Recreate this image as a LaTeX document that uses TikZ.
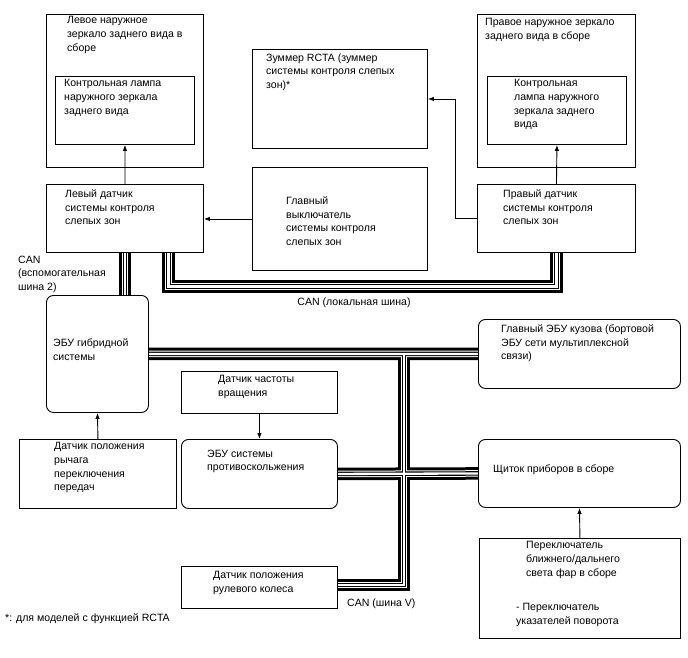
\documentclass[tikz,border=0pt]{standalone}
\usepackage{fontspec}
\setmainfont{Liberation Sans}
\usetikzlibrary{arrows.meta,calc,backgrounds}

\begin{document}
\begin{tikzpicture}[x=1bp,y=-1bp,
  every node/.style={font=\fontsize{10.6}{13.6}\selectfont},
  box/.style={draw=black,fill=white,line width=0.9bp,anchor=north west,inner sep=0pt},
  rbox/.style={box,rounded corners=7bp},
  txt/.style={anchor=north west,align=left,inner sep=0pt,yshift=-1.5bp},
  ar/.style={-{Latex[length=6bp,width=4.5bp]},line width=0.9bp}]
\useasboundingbox (0,0) rectangle (688,658);
\node[box,minimum width=157bp,minimum height=153bp] (lmir) at (46,14) {};
\node[box,minimum width=139bp,minimum height=68bp] (llamp) at (55,76) {};
\node[box,minimum width=157bp,minimum height=68bp] (lsens) at (46,184) {};
\node[box,minimum width=175bp,minimum height=99bp] (buzz) at (252,49) {};
\node[box,minimum width=175bp,minimum height=103bp] (msw) at (252,167) {};
\node[box,minimum width=158bp,minimum height=153bp] (rmir) at (477,14) {};
\node[box,minimum width=139bp,minimum height=68bp] (rlamp) at (487,76) {};
\node[box,minimum width=158bp,minimum height=68bp] (rsens) at (477,184) {};
\node[rbox,minimum width=102bp,minimum height=117bp] (hv) at (46,295) {};
\node[box,minimum width=156bp,minimum height=42bp] (spd) at (181,371) {};
\node[rbox,minimum width=156bp,minimum height=69bp] (abs) at (181,439) {};
\node[box,minimum width=157bp,minimum height=69bp] (shift) at (19,439) {};
\node[rbox,minimum width=202bp,minimum height=69bp] (body) at (478,319) {};
\node[rbox,minimum width=202bp,minimum height=68bp] (meter) at (478,439) {};
\node[box,minimum width=201bp,minimum height=100bp] (hlsw) at (479,538) {};
\node[box,minimum width=156bp,minimum height=42bp] (steer) at (181,566) {};
\node[txt] (lmir-t) at (67,15) {Левое наружное\\зеркало заднего вида в\\сборе};
\node[txt] (llamp-t) at (64,78) {Контрольная лампа\\наружного зеркала\\заднего вида};
\node[txt] (lsens-t) at (65,188) {Левый датчик\\системы контроля\\слепых зон};
\node[txt] (buzz-t) at (266,52) {Зуммер RCTA (зуммер\\системы контроля слепых\\зон)*};
\node[txt] (msw-t) at (286,195) {Главный\\выключатель\\системы контроля\\слепых зон};
\node[txt] (rmir-t) at (485,17) {Правое наружное зеркало\\заднего вида в сборе};
\node[txt] (rlamp-t) at (514,78) {Контрольная\\лампа наружного\\зеркала заднего\\вида};
\node[txt] (rsens-t) at (503,188) {Правый датчик\\системы контроля\\слепых зон};
\node[txt] (hv-t) at (53,337) {ЭБУ гибридной\\системы};
\node[txt] (spd-t) at (218,374) {Датчик частоты\\вращения};
\node[txt] (abs-t) at (207,448) {ЭБУ системы\\противоскольжения};
\node[txt] (shift-t) at (54,441) {Датчик положения\\рычага\\переключения\\передач};
\node[txt] (body-t) at (501,323) {Главный ЭБУ кузова (бортовой\\ЭБУ сети мультиплексной\\связи)};
\node[txt] (meter-t) at (493,463) {Щиток приборов в сборе};
\node[txt] (hlsw-t) at (526,540) {Переключатель\\ближнего/дальнего\\света фар в сборе};
\node[txt] (turn-t) at (516,602) {- Переключатель\\указателей поворота};
\node[txt] (steer-t) at (213,570) {Датчик положения\\рулевого колеса};
\node[txt] (aux-l) at (18,254) {CAN\\(вспомогательная\\шина 2)};
\node[anchor=center,inner sep=0pt] (loc-l) at (354,303) {CAN (локальная шина)};
\node[txt] (v-l) at (347,597) {CAN (шина V)};
\node[txt] (note) at (5,612) {*: для моделей с функцией RCTA};
\coordinate (lbend) at (168.5,286.5);
\coordinate (vbend) at (404,585);
\draw[ar] (lsens.north) -- (llamp.south);
\draw[ar] (rsens.north) -- (rlamp.south);
\draw[ar] (msw.west) -- (msw.west -| lsens.east);
\draw[ar] (rsens.west) -- ++(-22,0) |- (buzz.east);
\draw[ar] (spd.south) -- (abs.north);
\draw[ar] (shift.north) -- (hv.south);
\draw[ar] (hlsw.north) -- (meter.south);
\begin{scope}[on background layer]
\foreach \w/\c in {12.5/black,6.5/white,4.5/black,2.3/white}{
  \draw[line width=\w bp,draw=\c] (lsens.south) -- (lsens.south |- hv.north);
  \draw[line width=\w bp,draw=\c] (lsens.south -| lbend) -- (lbend) -- (lbend -| rsens.south) -- (rsens.south);
  \draw[line width=\w bp,draw=\c] (hv.east) -- (body.west);
  \draw[line width=\w bp,draw=\c] (hv.east -| vbend) -- (vbend) -- (vbend -| steer.east);
  \draw[line width=\w bp,draw=\c] (abs.east) -- (meter.west);
}
\end{scope}
\end{tikzpicture}
\end{document}
